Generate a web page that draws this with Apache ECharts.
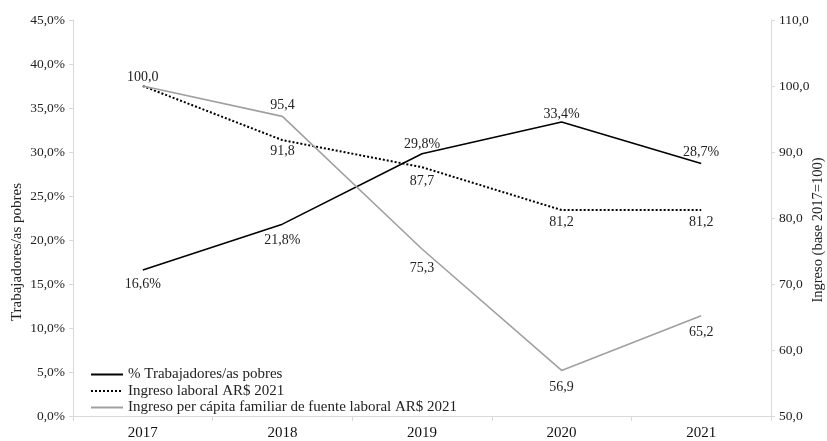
<!DOCTYPE html>
<html>
<head>
<meta charset="utf-8">
<script src="https://cdn.jsdelivr.net/npm/echarts@6/dist/echarts.min.js"></script>
<style>html,body{margin:0;padding:0;background:#fff;}#c{width:827px;height:441px;}</style>
</head>
<body>
<div id="c"></div>
<script>
const years = ['2017', '2018', '2019', '2020', '2021'];
const trabajadoresPobres = [16.6, 21.8, 29.8, 33.4, 28.7];
const ingresoLaboral = [100.0, 91.8, 87.7, 81.2, 81.2];
const ingresoPerCapita = [100.0, 95.4, 75.3, 56.9, 65.2];
const seriesNames = ['% Trabajadores/as pobres', 'Ingreso laboral AR$ 2021', 'Ingreso per cápita familiar de fuente laboral AR$ 2021'];
const leftAxisName = 'Trabajadores/as pobres';
const rightAxisName = 'Ingreso (base 2017=100)';

const FONT = 'Liberation Serif';
const fmt = v => v.toFixed(1).replace('.', ',');
const CLEAR = 'rgba(0,0,0,0)';

const chart = echarts.init(document.getElementById('c'), null, {renderer: 'canvas'});
const labelStyle = {show: true, fontFamily: FONT, fontSize: 14, color: '#222', distance: 5, opacity: 1};

function withPos(arr, positions, showMask, distances) {
  return arr.map((v, i) => ({
    value: v,
    label: Object.assign(
      {show: showMask ? showMask[i] : true, position: positions[i]},
      distances ? {distance: distances[i]} : {}
    )
  }));
}

chart.setOption({
  animation: false,
  backgroundColor: '#fff',
  grid: {left: 73, right: 56, top: 20, bottom: 23, containLabel: false},
  legend: {
    orient: 'vertical', left: 85, top: 362,
    itemWidth: 32, itemHeight: 12, itemGap: 1.5,
    textStyle: {fontFamily: FONT, fontSize: 15, color: '#222'},
    data: seriesNames
  },
  xAxis: {
    type: 'category', data: years, boundaryGap: true,
    axisLine: {lineStyle: {color: '#d9d9d9', width: 1}},
    axisTick: {show: true, length: 5, lineStyle: {color: '#d9d9d9'}},
    axisLabel: {fontFamily: FONT, fontSize: 15, color: '#111', margin: 10}
  },
  yAxis: [
    {
      type: 'value', min: 0, max: 45, interval: 5, position: 'left',
      axisLine: {show: true, lineStyle: {color: '#d9d9d9'}},
      axisTick: {show: true, length: 4, lineStyle: {color: '#d9d9d9'}},
      splitLine: {show: false},
      axisLabel: {fontFamily: FONT, fontSize: 13.5, color: '#222', margin: 8, formatter: v => fmt(v) + '%'}
    },
    {
      type: 'value', min: 50, max: 110, interval: 10, position: 'right',
      axisLine: {show: true, lineStyle: {color: '#d9d9d9'}},
      axisTick: {show: true, length: 4, lineStyle: {color: '#d9d9d9'}},
      splitLine: {show: false},
      axisLabel: {fontFamily: FONT, fontSize: 13.5, color: '#222', margin: 8, formatter: v => fmt(v)}
    }
  ],
  graphic: [
    {type: 'text', x: 17, y: 252, rotation: Math.PI / 2,
     style: {text: leftAxisName, font: '15px "' + FONT + '"', fill: '#222', align: 'center', verticalAlign: 'middle'}},
    {type: 'text', x: 818, y: 230, rotation: Math.PI / 2,
     style: {text: rightAxisName, font: '14.5px "' + FONT + '"', fill: '#222', align: 'center', verticalAlign: 'middle'}}
  ],
  series: [
    {
      name: seriesNames[0], type: 'line', yAxisIndex: 0, symbol: 'circle', symbolSize: 1, showSymbol: true,
      lineStyle: {color: '#000', width: 1.6},
      itemStyle: {color: CLEAR, borderWidth: 0},
      label: Object.assign({}, labelStyle, {formatter: p => fmt(p.value) + '%'}),
      data: withPos(trabajadoresPobres, ['bottom', 'bottom', 'top', 'top', 'top'], null, [7, 9, 2, 0, 4])
    },
    {
      name: seriesNames[1], type: 'line', yAxisIndex: 1, symbol: 'circle', symbolSize: 1, showSymbol: true,
      lineStyle: {color: '#000', width: 2, type: [2, 2]},
      itemStyle: {color: CLEAR, borderWidth: 0},
      label: Object.assign({}, labelStyle, {formatter: p => fmt(p.value)}),
      data: withPos(ingresoLaboral, ['top', 'bottom', 'bottom', 'bottom', 'bottom'], [false, true, true, true, true], [1, 4, 7, 5, 5])
    },
    {
      name: seriesNames[2], type: 'line', yAxisIndex: 1, symbol: 'circle', symbolSize: 1, showSymbol: true,
      lineStyle: {color: '#a0a0a0', width: 1.6},
      itemStyle: {color: CLEAR, borderWidth: 0},
      label: Object.assign({}, labelStyle, {formatter: p => fmt(p.value)}),
      data: withPos(ingresoPerCapita, ['top', 'top', 'bottom', 'bottom', 'bottom'], null, [1, 4, 12, 9, 9])
    }
  ]
});
</script>
</body>
</html>
